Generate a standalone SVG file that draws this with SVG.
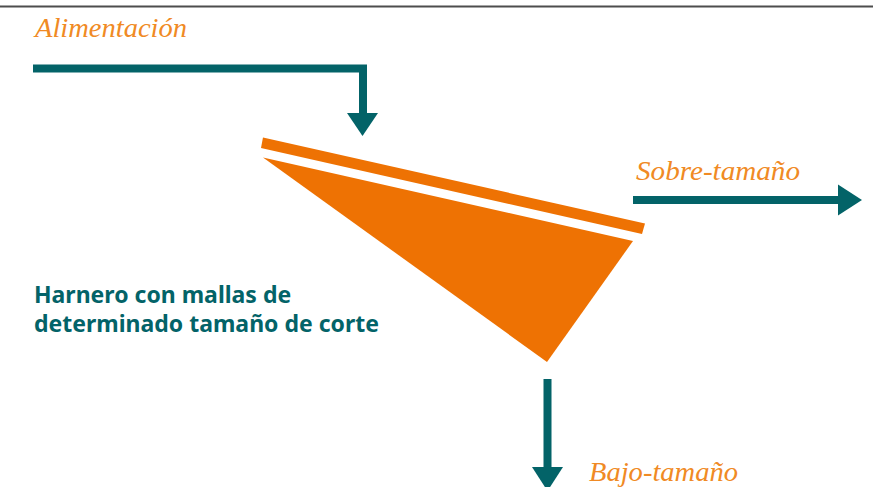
<svg xmlns="http://www.w3.org/2000/svg" width="873" height="487" viewBox="0 0 873 487">
<style>
.lbl{font-family:"Liberation Serif",serif;font-style:italic;font-size:28px;fill:#f08a24}
.title{font-family:"Noto Sans","Open Sans",sans-serif;font-weight:bold;font-size:23px;fill:#036368}
.flow{fill:none;stroke:#036368;stroke-width:8}
.head{fill:#036368}
.screen{fill:#ee7203}
</style>
<rect x="0" y="5.5" width="873" height="2" fill="#4d4d4d"/>
<g id="connectors">
<polyline class="flow" points="33,68.5 363,68.5 363,114"/>
<polygon class="head" points="347,113 378,113 362.5,136"/>
<line class="flow" x1="633" y1="200" x2="840" y2="200"/>
<polygon class="head" points="838,184.5 838,215.5 862,200"/>
<line class="flow" x1="547.5" y1="379" x2="547.5" y2="469"/>
<polygon class="head" points="532,467 563,467 547.5,491"/>
</g>
<g id="screen">
<polygon class="screen" points="263,137.5 645,223.5 642,234 261,148"/>
<polygon class="screen" points="263,157.5 633,241 547,362"/>
</g>
<g id="label-alimentacion"><text class="lbl" x="35" y="37" textLength="152" lengthAdjust="spacingAndGlyphs">Alimentación</text></g>
<g id="label-sobre"><text class="lbl" x="636" y="180" textLength="164" lengthAdjust="spacingAndGlyphs">Sobre-tamaño</text></g>
<g id="label-bajo"><text class="lbl" x="589" y="481" textLength="149" lengthAdjust="spacingAndGlyphs">Bajo-tamaño</text></g>
<g id="label-harnero">
<text class="title" x="34" y="303">Harnero con mallas de</text>
<text class="title" x="34" y="332">determinado tamaño de corte</text>
</g>
</svg>
